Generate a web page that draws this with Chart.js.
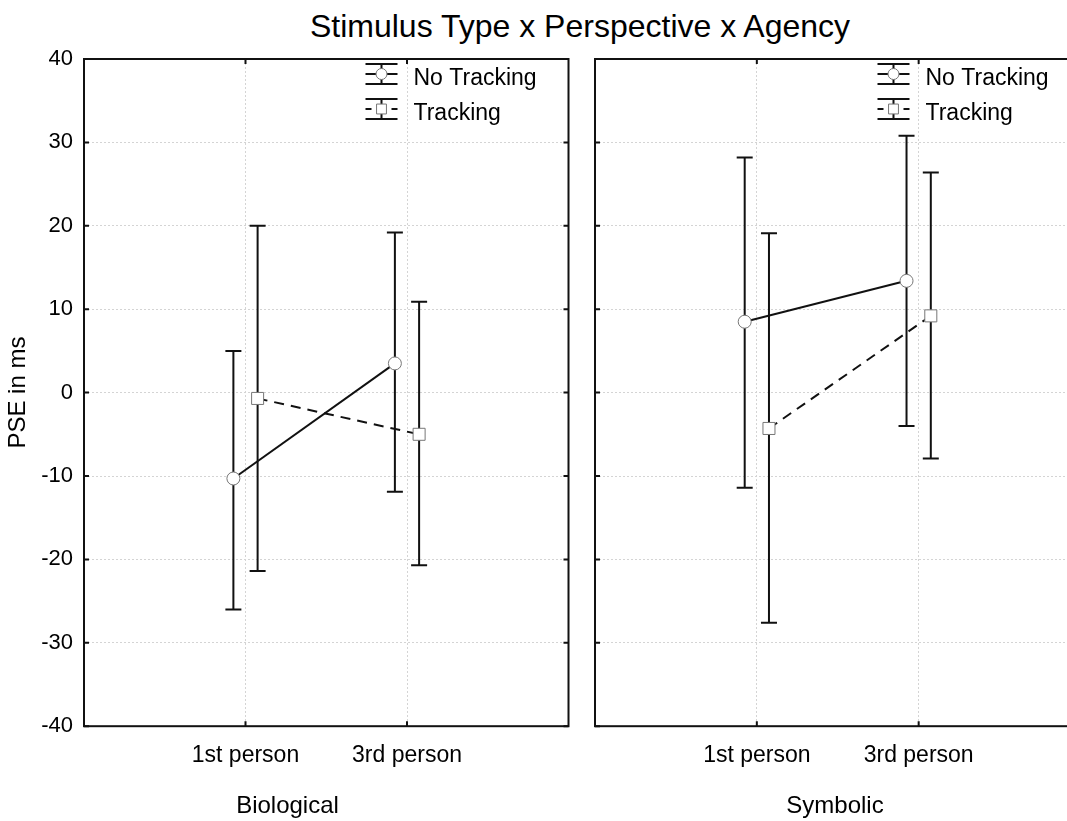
<!DOCTYPE html>
<html>
<head>
<meta charset="utf-8">
<script src="https://cdn.jsdelivr.net/npm/chart.js@4.4.1/dist/chart.umd.min.js"></script>
<style>
    html, body { margin: 0; padding: 0; background: #fff; overflow: hidden; width: 1067px; height: 821px; }
    #title {
        position: absolute; left: 0; top: 7px; width: 1160px;
        text-align: center; color: #000;
        font: 32px 'Liberation Sans', Arial, sans-serif; line-height: 38px;
    }
    #left  { position: absolute; left: 0;     top: 0; }
    #right { position: absolute; left: 585px; top: 0; }
</style>
</head>
<body>
<div id="title">Stimulus Type x Perspective x Agency</div>
<canvas id="left" width="578" height="821"></canvas>
<canvas id="right" width="505" height="821"></canvas>
<script>
const FONT = "'Liberation Sans', Arial, sans-serif";

const categories = ['1st person', '3rd person'];
const seriesNames = ['No Tracking', 'Tracking'];

// Biological panel: means and error bar ends
const bioNoTracking     = [-10.3, 3.5];
const bioNoTrackingLow  = [-26.0, -11.9];
const bioNoTrackingHigh = [5.0, 19.2];
const bioTracking       = [-0.7, -5.0];
const bioTrackingLow    = [-21.4, -20.7];
const bioTrackingHigh   = [20.0, 10.9];

// Symbolic panel
const symNoTracking     = [8.5, 13.4];
const symNoTrackingLow  = [-11.4, -4.0];
const symNoTrackingHigh = [28.2, 30.8];
const symTracking       = [-4.3, 9.2];
const symTrackingLow    = [-27.6, -7.9];
const symTrackingHigh   = [19.1, 26.4];

const SHIFT = 0.075;

function points(values, shift) {
    return values.map((v, i) => ({ x: i + 1 + shift, y: v }));
}

function makeSets(nt, ntLow, ntHigh, tr, trLow, trHigh) {
    return [
        {
            label: seriesNames[0],
            data: points(nt, -SHIFT),
            low: ntLow, high: ntHigh,
            borderColor: '#111', borderWidth: 2,
            pointStyle: 'circle', pointRadius: 6.5,
            pointBackgroundColor: '#fff', pointBorderColor: '#777', pointBorderWidth: 1,
            tension: 0
        },
        {
            label: seriesNames[1],
            data: points(tr, SHIFT),
            low: trLow, high: trHigh,
            borderColor: '#111', borderWidth: 2, borderDash: [10, 7],
            pointStyle: 'rect', pointRadius: 8.5,
            pointBackgroundColor: '#fff', pointBorderColor: '#777', pointBorderWidth: 1,
            tension: 0
        }
    ];
}

// frame round the plot area and short inward ticks
const frame = {
    id: 'frame',
    beforeDatasetsDraw(chart) {
        const { ctx, chartArea: a, scales: { x, y } } = chart;
        ctx.save();
        ctx.strokeStyle = '#111';
        ctx.lineWidth = 2;
        ctx.strokeRect(a.left, a.top, a.right - a.left, a.bottom - a.top);
        ctx.beginPath();
        y.ticks.forEach(t => {
            const py = y.getPixelForValue(t.value);
            ctx.moveTo(a.left, py);  ctx.lineTo(a.left + 5, py);
            ctx.moveTo(a.right, py); ctx.lineTo(a.right - 5, py);
        });
        x.ticks.forEach(t => {
            const px = x.getPixelForValue(t.value);
            ctx.moveTo(px, a.top);    ctx.lineTo(px, a.top + 5);
            ctx.moveTo(px, a.bottom); ctx.lineTo(px, a.bottom - 5);
        });
        ctx.stroke();
        ctx.restore();
    }
};

const errorBars = {
    id: 'errorBars',
    beforeDatasetsDraw(chart) {
        const ctx = chart.ctx;
        const y = chart.scales.y;
        ctx.save();
        ctx.strokeStyle = '#111';
        ctx.lineWidth = 2;
        chart.data.datasets.forEach((ds, i) => {
            chart.getDatasetMeta(i).data.forEach((pt, j) => {
                const top = y.getPixelForValue(ds.high[j]);
                const bot = y.getPixelForValue(ds.low[j]);
                ctx.beginPath();
                ctx.moveTo(pt.x, top);     ctx.lineTo(pt.x, bot);
                ctx.moveTo(pt.x - 8, top); ctx.lineTo(pt.x + 8, top);
                ctx.moveTo(pt.x - 8, bot); ctx.lineTo(pt.x + 8, bot);
                ctx.stroke();
            });
        });
        ctx.restore();
    }
};

const legendBox = {
    id: 'legendBox',
    afterDraw(chart) {
        const { ctx, chartArea: a } = chart;
        const cx = a.right - 187;
        const tx = a.right - 155;
        chart.data.datasets.forEach((ds, i) => {
            const top = a.top + 5 + i * 35;
            const mid = top + 10;
            ctx.save();
            ctx.strokeStyle = '#111';
            ctx.lineWidth = 2;
            ctx.beginPath();
            ctx.moveTo(cx - 16, top);      ctx.lineTo(cx + 16, top);
            ctx.moveTo(cx - 16, top + 20); ctx.lineTo(cx + 16, top + 20);
            ctx.moveTo(cx, top);           ctx.lineTo(cx, top + 20);
            ctx.stroke();
            ctx.setLineDash(ds.borderDash ? [6, 20] : []);
            ctx.beginPath();
            ctx.moveTo(cx - 16, mid); ctx.lineTo(cx + 16, mid);
            ctx.stroke();
            ctx.setLineDash([]);
            ctx.fillStyle = '#fff';
            ctx.strokeStyle = '#777';
            ctx.lineWidth = 1;
            Chart.helpers.drawPoint(ctx, {
                pointStyle: ds.pointStyle,
                radius: ds.pointStyle === 'rect' ? 7 : 5.5,
                rotation: 0,
                borderWidth: 1
            }, cx, mid);
            ctx.fillStyle = '#000';
            ctx.font = '23px ' + FONT;
            ctx.textBaseline = 'middle';
            ctx.textAlign = 'left';
            ctx.fillText(ds.label, tx, mid + 5);
            ctx.restore();
        });
    }
};

function createPanel(id, panelName, datasets, showY, padRight, yWidth) {
    return new Chart(document.getElementById(id), {
        type: 'line',
        data: { datasets: datasets },
        plugins: [frame, errorBars, legendBox],
        options: {
            responsive: false,
            animation: false,
            layout: { padding: { top: 59, right: padRight, bottom: 0, left: 0 } },
            plugins: {
                legend: { display: false },
                tooltip: { enabled: false },
                title: {
                    display: true,
                    text: panelName,
                    position: 'bottom',
                    color: '#000',
                    font: { family: FONT, size: 24, weight: 'normal' },
                    padding: 0
                }
            },
            scales: {
                x: {
                    type: 'linear',
                    min: 0,
                    max: 3,
                    afterBuildTicks: s => { s.ticks = categories.map((c, i) => ({ value: i + 1 })); },
                    afterFit: s => { s.height = 66; },
                    ticks: {
                        callback: (v, i) => categories[i],
                        color: '#000',
                        font: { family: FONT, size: 23 },
                        padding: 16,
                        maxRotation: 0,
                        autoSkip: false
                    },
                    grid: { color: '#d4d4d4', lineWidth: 1, drawTicks: false },
                    border: { display: false, dash: [2, 2] }
                },
                y: {
                    min: -40,
                    max: 40,
                    afterFit: s => { s.width = yWidth; },
                    ticks: {
                        display: showY,
                        stepSize: 10,
                        color: '#000',
                        font: { family: FONT, size: 22 },
                        padding: 11
                    },
                    title: {
                        display: showY,
                        text: 'PSE in ms',
                        color: '#000',
                        font: { family: FONT, size: 24 },
                        padding: { top: 4, bottom: 0 }
                    },
                    grid: { color: '#d4d4d4', lineWidth: 1, drawTicks: false },
                    border: { display: false, dash: [2, 2] }
                }
            }
        }
    });
}

const bioChart = createPanel('left', 'Biological',
    makeSets(bioNoTracking, bioNoTrackingLow, bioNoTrackingHigh,
             bioTracking, bioTrackingLow, bioTrackingHigh), true, 3, 84);

const symChart = createPanel('right', 'Symbolic',
    makeSets(symNoTracking, symNoTrackingLow, symNoTrackingHigh,
             symTracking, symTrackingLow, symTrackingHigh), false, 5, 10);
</script>
</body>
</html>
